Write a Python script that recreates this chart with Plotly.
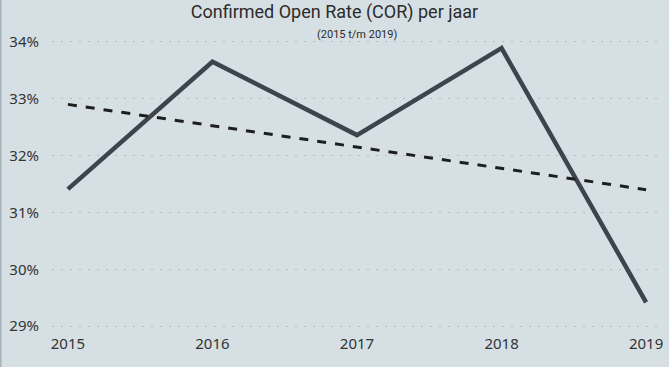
import plotly.graph_objects as go

years = [2015, 2016, 2017, 2018, 2019]
cor = [31.41, 33.65, 32.36, 33.89, 29.42]
trend_years = [2015, 2019]
trend_vals = [32.90, 31.40]
y_ticks = [29, 30, 31, 32, 33, 34]
y_tick_labels = ["29%", "30%", "31%", "32%", "33%", "34%"]

W, H = 669, 367
ml, mr, mt, mb = 52, 7, 39, 38

fig = go.Figure()
fig.add_trace(go.Scatter(x=years, y=cor, mode="lines",
                         line=dict(color="#3d444b", width=4.5), hoverinfo="skip"))
fig.add_trace(go.Scatter(x=trend_years, y=trend_vals, mode="lines",
                         line=dict(color="#1e1e1e", width=3, dash="dash"), hoverinfo="skip"))

fig.update_layout(
    width=W, height=H,
    margin=dict(l=ml, r=mr, t=mt, b=mb),
    paper_bgcolor="#d6e0e4", plot_bgcolor="#d6e0e4",
    showlegend=False,
    font=dict(family="Noto Sans, sans-serif", color="#333333", size=14),
    title=dict(text="Confirmed Open Rate (COR) per jaar", x=0.5, xanchor="center",
               y=0.985, yanchor="top",
               font=dict(family="Roboto, sans-serif", size=18, color="#2b2b2b")),
    annotations=[dict(text="(2015 t/m 2019)", xref="paper", yref="paper",
                      x=0.5, y=1.0, xanchor="center", yanchor="bottom", yshift=-4,
                      showarrow=False,
                      font=dict(family="Roboto, sans-serif", size=11, color="#2b2b2b"))],
    shapes=[dict(type="line", xref="paper", yref="paper",
                 x0=-ml / (W - ml - mr) + 0.001, x1=-ml / (W - ml - mr) + 0.001,
                 y0=-mb / (H - mt - mb), y1=1 + mt / (H - mt - mb),
                 line=dict(color="#a8b6bf", width=2))],
)
fig.update_xaxes(range=[2014.89, 2019.11], tickvals=years, ticktext=[str(y) for y in years],
                 showgrid=False, zeroline=False, showline=False, ticks="",
                 ticklabelstandoff=4,
                 tickfont=dict(size=15, color="#333333"))
fig.update_yaxes(range=[28.95, 34.05], tickvals=y_ticks, ticktext=y_tick_labels,
                 showgrid=True, gridcolor="#b7bcbf", griddash="2px,7px", gridwidth=1.2,
                 zeroline=False, showline=False, ticks="", ticklabelstandoff=12,
                 tickfont=dict(size=15, color="#333333"))

fig.write_html("out.html", config={"displayModeBar": False},
               post_script="document.body.style.margin='0';")
